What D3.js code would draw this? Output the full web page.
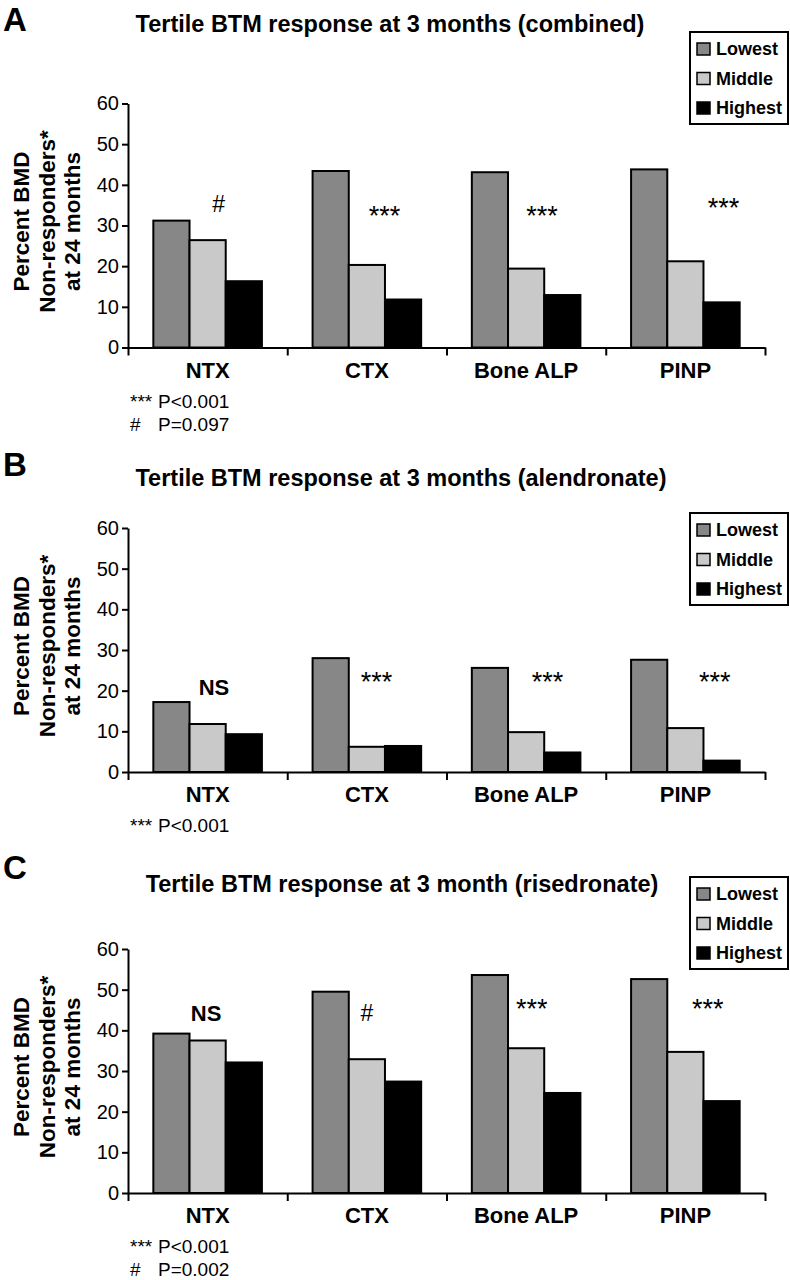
<!DOCTYPE html>
<html>
<head>
<meta charset="utf-8">
<script src="https://cdn.jsdelivr.net/npm/d3@7"></script>
<style>
  body { margin: 0; background: #fff; }
  svg { display: block; }
</style>
</head>
<body>
<script>
const categories = ['NTX', 'CTX', 'Bone ALP', 'PINP'];
const series = ['Lowest', 'Middle', 'Highest'];
const seriesColors = ['#878787', '#c9c9c9', '#000000'];
const yTicks = [0, 10, 20, 30, 40, 50, 60];

// percent BMD non-responders, one row per marker: [Lowest, Middle, Highest]
const combinedValues = [
  [31.2, 26.4, 16.3],
  [43.4, 20.3, 11.8],
  [43.1, 19.4, 12.9],
  [43.8, 21.2, 11.1]
];
const alendronateValues = [
  [17.2, 11.8, 9.3],
  [28.0, 6.2, 6.4],
  [25.6, 9.8, 4.8],
  [27.6, 10.8, 2.8]
];
const risedronateValues = [
  [39.2, 37.5, 32.1],
  [49.5, 32.9, 27.4],
  [53.6, 35.6, 24.6],
  [52.6, 34.7, 22.6]
];

// significance marks: category, place across the group (0..1), value at text baseline
const combinedMarks = [
  ['NTX', 0.57, 33.3, '#'],
  ['CTX', 0.61, 30.1, '***'],
  ['Bone ALP', 0.60, 30.1, '***'],
  ['PINP', 0.74, 32.0, '***']
];
const alendronateMarks = [
  ['NTX', 0.54, 19.0, 'NS'],
  ['CTX', 0.56, 19.9, '***'],
  ['Bone ALP', 0.635, 19.9, '***'],
  ['PINP', 0.685, 19.9, '***']
];
const risedronateMarks = [
  ['NTX', 0.49, 42.2, 'NS'],
  ['CTX', 0.50, 42.4, '#'],
  ['Bone ALP', 0.535, 43.1, '***'],
  ['PINP', 0.64, 43.1, '***']
];

const combinedNotes = [['***', 'P<0.001'], ['#', 'P=0.097']];
const alendronateNotes = [['***', 'P<0.001']];
const risedronateNotes = [['***', 'P<0.001'], ['#', 'P=0.002']];

const panels = [
  {letter: 'A', title: 'Tertile BTM response at 3 months (combined)', values: combinedValues,
   marks: combinedMarks, notes: combinedNotes,
   top: 103.5, bottom: 347.5, letterY: 31, titleY: 32, titleX: 390, legendTop: 32},
  {letter: 'B', title: 'Tertile BTM response at 3 months (alendronate)', values: alendronateValues,
   marks: alendronateMarks, notes: alendronateNotes,
   top: 528, bottom: 772, letterY: 476, titleY: 486, titleX: 401, legendTop: 513},
  {letter: 'C', title: 'Tertile BTM response at 3 month (risedronate)', values: risedronateValues,
   marks: risedronateMarks, notes: risedronateNotes,
   top: 949, bottom: 1193, letterY: 879, titleY: 892, titleX: 402, legendTop: 877}
];

const width = 790;
const height = 1280;
const plotLeft = 128;
const plotRight = 765;
const font = '"Liberation Sans", Arial, Helvetica, sans-serif';

const svg = d3.select('body').append('svg')
    .attr('width', width)
    .attr('height', height)
    .attr('font-family', font);

const color = d3.scaleOrdinal().domain(series).range(seriesColors);

const x0 = d3.scaleBand()
    .domain(categories)
    .range([plotLeft, plotRight])
    .padding(0);

const x1 = d3.scaleBand()
    .domain(series)
    .range([0, x0.bandwidth()])
    .paddingInner(0)
    .paddingOuter(0.7);

const xEdge = d3.scaleLinear()
    .domain([0, categories.length])
    .range([plotLeft, plotRight]);

function drawPanel(p) {
  const g = svg.append('g');

  const y = d3.scaleLinear()
      .domain([0, 60])
      .range([p.bottom, p.top]);

  g.append('text')
      .attr('x', 3)
      .attr('y', p.letterY)
      .attr('font-size', 33)
      .attr('font-weight', 'bold')
      .text(p.letter);

  g.append('text')
      .attr('x', p.titleX)
      .attr('y', p.titleY)
      .attr('text-anchor', 'middle')
      .attr('font-size', 23.5)
      .attr('font-weight', 'bold')
      .text(p.title);

  // y axis title, three lines
  const mid = (p.top + p.bottom) / 2 - 4;
  const lines = ['Percent BMD', 'Non-responders*', 'at 24 months'];
  g.selectAll('.ytitle')
    .data(lines)
    .join('text')
      .attr('transform', (d, i) => `translate(${29 + i * 25.5},${mid}) rotate(-90)`)
      .attr('text-anchor', 'middle')
      .attr('font-size', 22.5)
      .attr('font-weight', 'bold')
      .text(d => d);

  // bars
  const group = g.selectAll('.grp')
    .data(p.values)
    .join('g')
      .attr('transform', (d, i) => `translate(${x0(categories[i])},0)`);

  group.selectAll('rect')
    .data(d => d.map((v, j) => ({key: series[j], value: v})))
    .join('rect')
      .attr('x', d => x1(d.key))
      .attr('y', d => y(d.value))
      .attr('width', x1.bandwidth())
      .attr('height', d => y(0) - y(d.value))
      .attr('fill', d => color(d.key))
      .attr('stroke', '#000')
      .attr('stroke-width', 2);

  // axes
  const yAxis = d3.axisLeft(y)
      .tickValues(yTicks)
      .tickSize(6)
      .tickSizeOuter(0)
      .tickPadding(3);

  const ya = g.append('g')
      .attr('transform', `translate(${plotLeft},0)`)
      .call(yAxis);
  ya.selectAll('text')
      .attr('font-size', 20)
      .attr('font-family', font)
      .attr('fill', '#000');
  ya.selectAll('line, path').attr('stroke', '#000').attr('stroke-width', 2);

  const xa = g.append('g')
      .attr('transform', `translate(0,${p.bottom})`)
      .call(d3.axisBottom(xEdge).ticks(categories.length).tickFormat('').tickSize(8).tickSizeOuter(0));
  xa.selectAll('line, path').attr('stroke', '#000').attr('stroke-width', 2);

  const xl = g.append('g')
      .attr('transform', `translate(0,${p.bottom})`)
      .call(d3.axisBottom(x0).tickSize(0).tickPadding(0));
  xl.select('.domain').remove();
  xl.selectAll('text')
      .attr('dy', 0)
      .attr('y', 30)
      .attr('font-size', 22)
      .attr('font-weight', 'bold')
      .attr('font-family', font)
      .attr('fill', '#000');

  // significance marks
  g.selectAll('.mark')
    .data(p.marks)
    .join('text')
      .attr('x', d => x0(d[0]) + d[1] * x0.bandwidth())
      .attr('y', d => y(d[2]))
      .attr('text-anchor', 'middle')
      .attr('font-size', d => d[3] === 'NS' ? 22 : (d[3] === '#' ? 23 : 27))
      .attr('font-weight', d => d[3] === 'NS' ? 'bold' : 'normal')
      .text(d => d[3]);

  // footnotes
  const notes = g.selectAll('.note')
    .data(p.notes)
    .join('text')
      .attr('y', (d, i) => p.bottom + 60 + i * 23)
      .attr('font-size', 19);
  notes.append('tspan').attr('x', 130).text(d => d[0]);
  notes.append('tspan').attr('x', 158).text(d => d[1]);

  // legend
  const lg = g.append('g')
      .attr('transform', `translate(690,${p.legendTop})`);
  lg.append('rect')
      .attr('width', 98)
      .attr('height', 92)
      .attr('fill', '#fff')
      .attr('stroke', '#000')
      .attr('stroke-width', 2);
  const item = lg.selectAll('.item')
    .data(series)
    .join('g')
      .attr('transform', (d, i) => `translate(7,${11 + i * 29.5})`);
  item.append('rect')
      .attr('width', 13)
      .attr('height', 12)
      .attr('fill', d => color(d))
      .attr('stroke', '#000')
      .attr('stroke-width', 1.5);
  item.append('text')
      .attr('x', 19)
      .attr('y', 12)
      .attr('font-size', 18)
      .attr('font-weight', 'bold')
      .text(d => d);
}

panels.forEach(drawPanel);
</script>
</body>
</html>
